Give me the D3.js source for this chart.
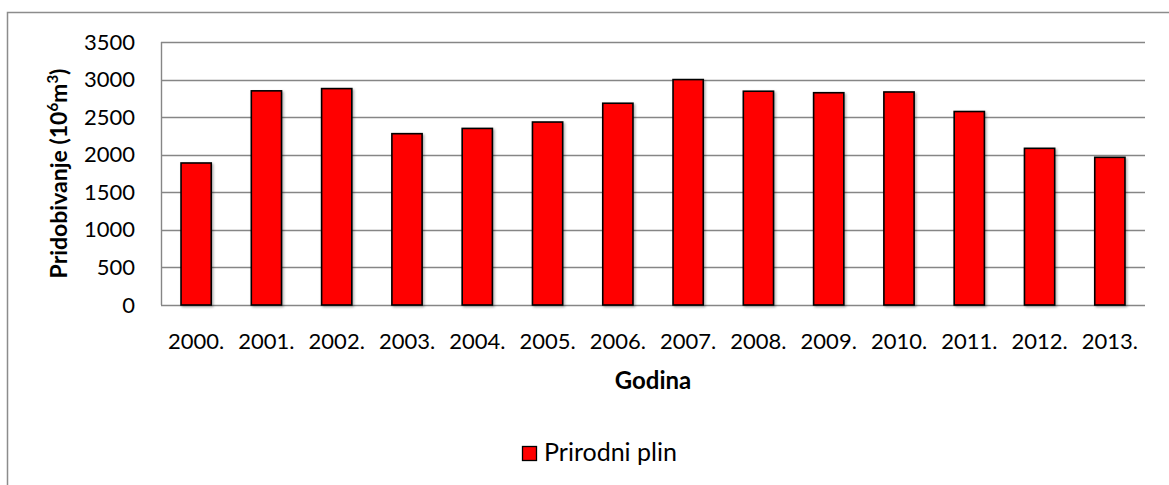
<!DOCTYPE html>
<html>
<head>
<meta charset="utf-8">
<script src="https://cdn.jsdelivr.net/npm/d3@7"></script>
<style>
  body { margin: 0; background: #fff; }
  text { font-family: Lato, "Open Sans", sans-serif; fill: #000; }
</style>
</head>
<body>
<script>
// data
var years = ["2000.", "2001.", "2002.", "2003.", "2004.", "2005.", "2006.",
             "2007.", "2008.", "2009.", "2010.", "2011.", "2012.", "2013."];
var gas = [1890, 2850, 2880, 2280, 2350, 2435, 2685, 3000, 2845, 2825, 2835, 2575, 2085, 1965];
var yTicks = [0, 500, 1000, 1500, 2000, 2500, 3000, 3500];
var seriesName = "Prirodni plin";

// margin
var W = 1169, H = 485;
var margin = {top: 42, right: 24, bottom: 180, left: 161},
    width = W - margin.left - margin.right,
    height = H - margin.top - margin.bottom;

var svg = d3.select("body").append("svg")
    .attr("width", W)
    .attr("height", H);

// outer chart frame (only top/left visible)
svg.append("rect")
    .attr("x", 7.5).attr("y", 12.5)
    .attr("width", 2000).attr("height", 2000)
    .attr("fill", "none")
    .attr("stroke", "#8c8c8c")
    .attr("stroke-width", 1.5);

// soft shadow for bars
var defs = svg.append("defs");
var f = defs.append("filter").attr("id", "shadow")
    .attr("x", "-20%").attr("y", "-20%").attr("width", "140%").attr("height", "140%");
f.append("feDropShadow")
    .attr("dx", 1.5).attr("dy", 1.5).attr("stdDeviation", 1.2)
    .attr("flood-color", "#000").attr("flood-opacity", 0.3);

var g = svg.append("g")
    .attr("transform", "translate(" + margin.left + "," + margin.top + ")");

var x = d3.scaleBand()
    .domain(years)
    .range([0, width])
    .paddingInner(0.57)
    .paddingOuter(0.285);

var y = d3.scaleLinear()
    .domain([0, 3500])
    .range([height, 0]);

// gridlines
g.append("g")
  .selectAll("line")
  .data(yTicks)
  .enter().append("line")
    .attr("x1", 0)
    .attr("x2", width)
    .attr("y1", d => Math.round(y(d)) + 0.5)
    .attr("y2", d => Math.round(y(d)) + 0.5)
    .attr("stroke", "#868686")
    .attr("stroke-width", 1.4);

// left axis line
g.append("line")
    .attr("x1", 0.5).attr("x2", 0.5)
    .attr("y1", 0).attr("y2", height)
    .attr("stroke", "#868686")
    .attr("stroke-width", 1.4);

// y tick labels
var yAxis = g.append("g")
    .call(d3.axisLeft(y).tickValues(yTicks).tickFormat(d3.format("d")).tickSize(0).tickPadding(26));
yAxis.select(".domain").remove();
yAxis.selectAll("text")
    .style("font-family", "Lato, sans-serif")
    .style("font-size", "22px")
    .attr("fill", "#000");

// bars
g.selectAll(".bar")
    .data(gas)
  .enter().append("rect")
    .attr("class", "bar")
    .attr("x", (d, i) => x(years[i]))
    .attr("y", d => y(d))
    .attr("width", x.bandwidth())
    .attr("height", d => height - y(d))
    .attr("fill", "#ff0000")
    .attr("stroke", "#000")
    .attr("stroke-width", 1.6)
    .attr("filter", "url(#shadow)");

// x tick labels
var xAxis = g.append("g")
    .attr("transform", "translate(0," + height + ")")
    .call(d3.axisBottom(x).tickSize(0).tickPadding(28));
xAxis.select(".domain").remove();
xAxis.selectAll("text")
    .style("font-family", "Lato, sans-serif")
    .style("font-size", "22px")
    .attr("fill", "#000");

// x title
g.append("text")
    .attr("x", width / 2)
    .attr("y", height + 84)
    .attr("text-anchor", "middle")
    .style("font-size", "24px")
    .style("font-weight", "bold")
    .text("Godina");

// y title
var yt = svg.append("text")
    .attr("transform", "translate(67," + (margin.top + height / 2) + ") rotate(-90)")
    .attr("text-anchor", "middle")
    .style("font-size", "23px")
    .style("font-weight", "bold");
yt.append("tspan").text("Pridobivanje (10");
yt.append("tspan").attr("baseline-shift", "super").style("font-size", "15px").text("6");
yt.append("tspan").text("m");
yt.append("tspan").attr("baseline-shift", "super").style("font-size", "15px").text("3");
yt.append("tspan").text(")");

// legend
var lg = svg.append("g").attr("transform", "translate(522,446)");
lg.append("rect")
    .attr("x", 0.5).attr("y", 0.5)
    .attr("width", 14).attr("height", 14)
    .attr("fill", "#ff0000")
    .attr("stroke", "#000")
    .attr("stroke-width", 1.3);
lg.append("text")
    .attr("x", 22)
    .attr("y", 15)
    .style("font-size", "25px")
    .text(seriesName);
</script>
</body>
</html>
